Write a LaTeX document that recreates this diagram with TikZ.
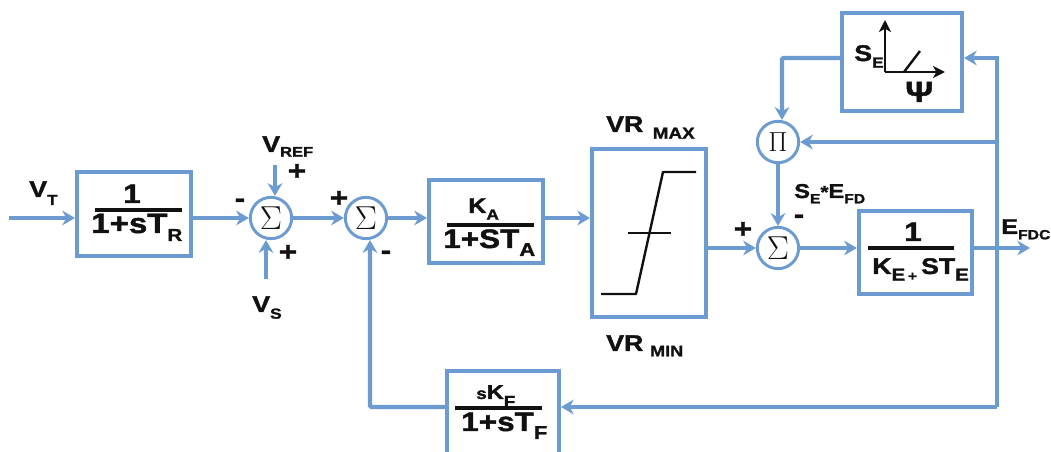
\documentclass[tikz,border=0pt]{standalone}
\usepackage{fontspec}
\setmainfont{Liberation Sans}[FakeStretch=1.18,BoldFeatures={FakeBold=1.6}]
\usetikzlibrary{arrows.meta,calc}
\definecolor{blk}{HTML}{6C9BD2}
\definecolor{ink}{HTML}{111111}
\newcommand{\tx}[2]{{\fontsize{#1}{#1}\selectfont #2}}
\newcommand{\sbb}[3]{\raisebox{-#2pt}{\tx{#1}{#3}}}
\tikzset{
  blockbox/.style={draw=blk,line width=3pt,fill=white,inner sep=0pt},
  sumnode/.style={circle,draw=blk,line width=2.2pt,fill=white,minimum size=31pt,inner sep=0pt,text=ink},
  conn/.style={draw=blk,line width=2.5pt,-{Stealth[length=9.5pt,width=11pt,inset=3pt]}},
  connthick/.style={conn,line width=3.2pt},
  lab/.style={anchor=base west,inner sep=0pt,text=ink,font=\bfseries},
  ink1/.style={draw=ink,line width=1.8pt},
  bar/.style={draw=ink,line width=2.8pt}
}
\begin{document}
\begin{tikzpicture}[x=.75pt,y=-.75pt]
\useasboundingbox (0,0) rectangle (1051,452);
% blocks
\node[blockbox,minimum width=85.5pt,minimum height=63pt] (tr) at (134,214) {};
\node[blockbox,minimum width=85.5pt,minimum height=62pt] (ka) at (486,221.5) {};
\node[blockbox,minimum width=85.5pt,minimum height=126pt] (vr) at (649,233) {};
\node[blockbox,minimum width=90pt,minimum height=73.5pt] (se) at (902,62) {};
\node[blockbox,minimum width=85pt,minimum height=62pt] (ee) at (915.5,252.5) {};
\node[blockbox,minimum width=84pt,minimum height=64pt] (ff) at (503,414) {};
% summing junctions
\node[sumnode] (s1) at (271,218) {\tx{28}{$\Sigma$}};
\node[sumnode] (s2) at (366,218) {\tx{28}{$\Sigma$}};
\node[sumnode] (s3) at (778,248) {\tx{28}{$\Sigma$}};
\node[sumnode] (pi) at (778,142) {\tx{21}{$\Pi$}};
% free ends
\coordinate (vt) at (9,218);
\coordinate (vref) at (275,165);
\coordinate (vs) at (266,279);
\coordinate (out) at (1030,248);
\coordinate (rail) at (997,248);
\coordinate (railtop) at (997,58);
\coordinate (railbot) at (997,407);
\coordinate (fbk) at (370,407);
\coordinate (secor) at (782,58);
% connectors
\draw[conn] (vt) -- (vt -| tr.west);
\draw[conn] (s1 -| tr.east) -- (s1.west);
\draw[conn] (s1.east) -- (s2.west);
\draw[conn] (s2.east) -- (s2 -| ka.west);
\draw[conn] (s2 -| ka.east) -- (s2 -| vr.west);
\draw[conn] (s3 -| vr.east) -- (s3.west);
\draw[conn] (s3.east) -- (s3 -| ee.west);
\draw[conn] (s3 -| ee.east) -- (out);
\draw[conn] (vref) -- (vref |- s1.north);
\draw[conn] (vs) -- (vs |- s1.south);
\draw[conn] (pi.south) -- (s3.north);
\draw[connthick] (railbot) -- (railtop) -- (railtop -| se.east);
\draw[conn] (rail |- pi) -- (pi.east);
\draw[connthick] (railbot) -- (railbot -| ff.east);
\draw[connthick,rounded corners=1pt] (railbot -| ff.west) -- (fbk) -- (fbk |- s2.south);
\draw[connthick,rounded corners=1pt] (secor -| se.west) -- (secor) -- (secor |- pi.north);
% fraction bars
\draw[bar] (95,210) coordinate (b1a) -- (182,210) coordinate (b1b);
\draw[bar] (447,225) coordinate (b2a) -- (534,225) coordinate (b2b);
\draw[bar] (868,248) coordinate (b3a) -- (954,248) coordinate (b3b);
\draw[bar,line width=3.2pt] (455,408) coordinate (b4a) -- (542,408) coordinate (b4b);
% limiter curve
\draw[ink1,line join=round] (601,294) -- (636,294) -- (663,172) -- (696,172);
\draw[ink1] (628,233) -- (671,233);
% saturation axes
\draw[ink1,-{Stealth[length=9pt,width=9pt,inset=2.5pt]}] (885,72) -- (885,20);
\draw[ink1,-{Stealth[length=9pt,width=9pt,inset=2.5pt]}] (885,72) -- (945,72);
\draw[ink1] (904,72) -- (920,51);
% labels
\node[lab] (lvt) at (29,197) {\tx{17}{V}\sbb{11}{6}{T}};
\node[lab] (lvref) at (262,152) {\tx{17}{V}\sbb{10.5}{3.5}{REF}};
\node[lab] (lvs) at (252,312) {\tx{17}{V}\sbb{11}{5}{S}};
\node[lab,anchor=base] (n1) at (132,203) {\tx{20}{1}};
\node[lab] (d1) at (91,233) {\tx{21}{1+sT}\sbb{13}{6}{R}};
\node[lab] (n2) at (468,213) {\tx{16}{K}\sbb{11}{5}{A}};
\node[lab] (d2) at (443,248) {\tx{20}{1+ST}\sbb{14}{6}{A}};
\node[lab] (lmax) at (606,132) {\tx{17}{VR}\hspace{7pt}\sbb{12}{5}{MAX}};
\node[lab] (lmin) at (606,351) {\tx{17}{VR}\hspace{5pt}\sbb{11.5}{4}{MIN}};
\node[lab] (lse) at (854,61) {\tx{17}{S}\sbb{11}{5}{E}};
\node[lab] (lpsi) at (905,102) {\tx{22}{Ψ}};
\node[lab] (lsefd) at (794,198) {\tx{15}{S}\sbb{10}{4}{E}\tx{13}{*}\tx{15}{E}\sbb{10}{4}{FD}};
\node[lab,anchor=base] (n3) at (913,241) {\tx{20}{1}};
\node[lab] (d3) at (872,274) {\tx{17}{K}\sbb{13}{5}{E\hspace{2pt}\tx{10}{+}\hspace{3pt}}\tx{17}{ST}\sbb{13}{5}{E}};
\node[lab] (lfdc) at (1001,234) {\tx{16}{E}\sbb{10}{4}{FDC}};
\node[lab] (n4) at (476,399) {\tx{12}{s}\tx{15}{K}\sbb{12}{6}{F}};
\node[lab] (d4) at (461,431) {\tx{20}{1+sT}\sbb{14}{6}{F}};
% signs
\node[lab,anchor=center] (p1) at (297,172) {\tx{20}{+}};
\node[lab,anchor=center] (m1) at (240,203) {\tx{20}{-}};
\node[lab,anchor=center] (p2) at (339,199) {\tx{20}{+}};
\node[lab,anchor=center] (p3) at (288,253) {\tx{20}{+}};
\node[lab,anchor=center] (m2) at (386,255) {\tx{20}{-}};
\node[lab,anchor=center] (p4) at (743,230) {\tx{20}{+}};
\node[lab,anchor=center] (m3) at (799,219) {\tx{20}{-}};
\end{tikzpicture}
\end{document}
